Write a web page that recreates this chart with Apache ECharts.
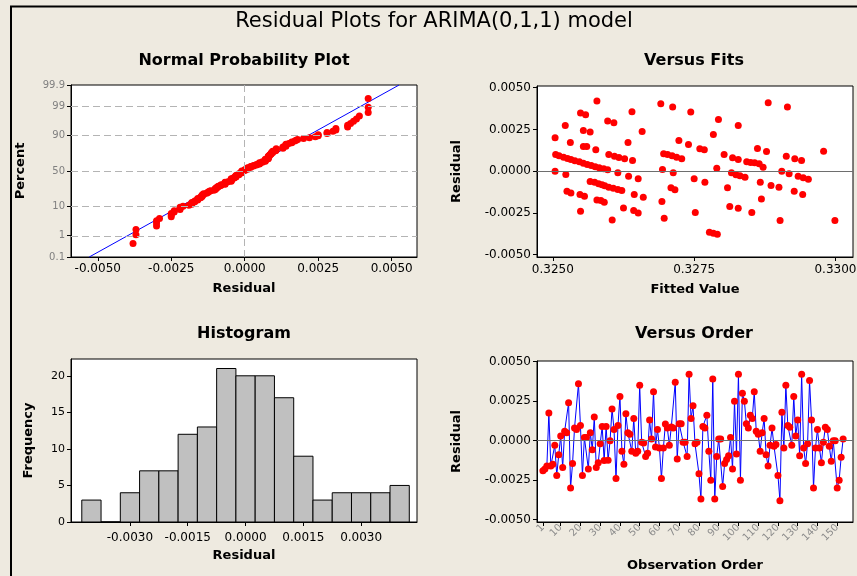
<!DOCTYPE html>
<html><head><meta charset="utf-8">
<script src="https://cdn.jsdelivr.net/npm/echarts@6/dist/echarts.min.js"></script>
<style>html,body{margin:0;padding:0;background:#EEEAE0}#c{width:857px;height:576px}</style>
</head><body><div id="c"></div>
<script>
// ---------- data ----------
const residuals = [
-0.0019,-0.0018,-0.0016,0.00175,-0.0016,-0.0015,-0.0003,-0.0022,-0.0009,0.0003,
-0.0017,0.0006,0.0005,0.0024,-0.0030,-0.00145,0.0008,0.0007,0.0036,0.00095,
-0.0022,0.0002,0.0002,-0.0018,0.0005,-0.00057,0.0015,-0.0017,-0.0014,-0.0002,
0.0009,-0.00126,0.0009,-0.00124,0.0000,0.0020,0.0007,-0.0024,0.00095,0.0028,
-0.00067,-0.0015,0.0017,0.0005,0.0004,-0.00067,0.0014,-0.0008,-0.00067,0.0035,
-0.0001,-0.00015,-0.0010,-0.0008,0.0013,0.0001,0.0031,-0.0004,0.0007,-0.00046,
-0.0024,-0.00046,0.00105,0.0008,-0.0003,0.00086,0.0008,0.0037,-0.00116,0.00107,
0.00107,-0.0001,-0.0001,-0.0010,0.0042,0.0014,0.0022,-0.0002,-0.0001,-0.0021,
-0.0037,0.0009,0.0008,0.0016,-0.00067,-0.0025,0.0039,-0.0037,-0.0010,0.0001,
0.0001,-0.0029,-0.00145,-0.0012,-0.00095,0.0002,-0.0018,0.0025,-0.00084,0.0042,
-0.0025,0.0030,0.0025,0.00107,0.0008,0.0016,0.0014,0.0031,0.0006,0.0004,
-0.00067,0.0005,0.0014,-0.0009,-0.0016,-0.0003,0.0008,-0.00036,-0.00025,-0.0022,
-0.0038,0.0018,-0.00046,0.0035,0.00095,0.00084,-0.0003,0.0028,0.0003,0.0013,
-0.00095,0.0042,-0.00046,-0.00145,-0.0002,0.0038,0.0013,-0.0030,-0.00046,0.0007,
-0.00046,-0.0014,-0.0001,0.00084,0.0007,-0.00036,-0.0013,0.0000,0.0000,-0.0030,
-0.0025,-0.00105,0.0001
];
const fitsFitted = [
0.32578,0.32549,0.32558,0.32522,0.32640,0.32597,0.32608,0.32554,0.32566,0.32504,0.32658,0.32531,0.32554,0.32560,0.32576,0.32633,
0.32505,0.32511,0.32519,0.32526,0.32532,0.32539,0.32547,0.32554,0.32561,0.32568,0.32575,0.32582,0.32590,0.32597,
0.32599,0.32609,0.32617,0.32627,0.32641,
0.32504,0.32523,0.32615,0.32634,0.32651,
0.32566,0.32574,0.32581,0.32587,0.32592,0.32599,0.32607,0.32615,0.32622,
0.32525,0.32532,0.32548,0.32556,0.32644,0.32660,0.32578,0.32585,0.32591,0.32625,0.32643,0.32651,0.32549,0.32605,
0.32691,0.32712,0.32744,0.32723,0.32740,
0.32696,0.32703,0.32711,0.32719,0.32728,
0.32694,0.32713,0.32709,0.32716,0.32693,0.32697,0.32750,0.32752,
0.32881,0.32915,0.32793,0.32828,0.32784,0.32760,0.32768,0.32862,0.32878,0.32979,
0.32803,0.32818,0.32828,0.32843,0.32850,0.32857,0.32865,0.32872,
0.32913,0.32928,0.32940,0.32790,
0.32816,0.32824,0.32831,0.32840,
0.32905,0.32918,0.32934,0.32943,0.32952,
0.32769,0.32809,0.32867,0.32886,0.32900,0.32927,0.32942,
0.32869,0.32813,0.32828,0.32852,0.32902,0.32999,
0.32777,0.32784,0.32791
];
const fitsResid = [
0.0042,0.00348,0.00338,0.00274,0.00356,0.0030,0.0029,0.00244,0.00234,0.0020,0.00238,0.00172,0.00148,0.00148,0.00128,0.00172,
0.0010,0.00092,0.00084,0.00076,0.0007,0.00062,0.00056,0.00048,0.0004,0.00034,0.00026,0.0002,0.00014,0.00008,
0.0010,0.0009,0.00082,0.00074,0.00064,
0.0000,-0.0002,-0.0001,-0.0003,-0.00046,
-0.00062,-0.00066,-0.00076,-0.00082,-0.00088,-0.00096,-0.00102,-0.0011,-0.00116,
-0.0012,-0.0013,-0.0014,-0.0015,-0.0014,-0.00156,-0.00172,-0.00176,-0.00186,-0.0022,-0.00236,-0.0025,-0.0024,-0.00292,
0.00404,0.00384,0.00354,0.00184,0.0016,
0.00104,0.0010,0.00092,0.00084,0.00074,
0.0001,-0.0001,-0.0010,-0.00112,-0.00182,-0.00282,-0.00046,-0.00248,
0.0041,0.00384,0.0031,0.00274,0.0022,0.00134,0.00128,0.00136,0.00118,0.0012,
0.0010,0.0008,0.0007,0.00056,0.00052,0.0005,0.00044,0.00024,
0.0009,0.00074,0.00064,0.00018,
-0.0001,-0.00022,-0.00028,-0.00036,
0.0000,-0.00016,-0.0003,-0.0004,-0.00048,
-0.00066,-0.0010,-0.00066,-0.00086,-0.00096,-0.0012,-0.0014,
-0.00166,-0.00212,-0.00222,-0.00248,-0.00296,-0.00296,
-0.00366,-0.00372,-0.00378
];
const histCenters = [-0.0040,-0.0035,-0.0030,-0.0025,-0.0020,-0.0015,-0.0010,-0.0005,0.0000,0.0005,0.0010,0.0015,0.0020,0.0025,0.0030,0.0035,0.0040];
const histCounts  = [3,0,4,7,7,12,13,21,20,20,17,9,3,4,4,4,5];
const histBinWidth = 0.0005;
const probLineX = [-0.00529, 0.00525];
const probLinePct = [0.1, 99.9];
const probPctTicks = [0.1, 1, 10, 50, 90, 99, 99.9];
const probPctLabels = ['0.1', '1', '10', '50', '90', '99', '99.9'];
const probPctGrid = [1, 10, 50, 90, 99];
const probXTicks = [-0.005, -0.0025, 0, 0.0025, 0.005];
const probXLabels = ['-0.0050', '-0.0025', '0.0000', '0.0025', '0.0050'];
const probXGrid = [-0.005, -0.00375, -0.0025, -0.00125, 0, 0.00125, 0.0025, 0.00375, 0.005];
const fitsXTicks = [0.325, 0.3275, 0.33];
const fitsXLabels = ['0.3250', '0.3275', '0.3300'];
const residTicks = [-0.005, -0.0025, 0, 0.0025, 0.005];
const residLabels = ['-0.0050', '-0.0025', '0.0000', '0.0025', '0.0050'];
const histXTicks = [-0.003, -0.0015, 0, 0.0015, 0.003];
const histXLabels = ['-0.0030', '-0.0015', '0.0000', '0.0015', '0.0030'];
const histYTicks = [0, 5, 10, 15, 20];
const orderTicks = [1, 10, 20, 30, 40, 50, 60, 70, 80, 90, 100, 110, 120, 130, 140, 150];

// ---------- helpers ----------
function probit(p){
  const a=[-3.969683028665376e+01,2.209460984245205e+02,-2.759285104469687e+02,1.383577518672690e+02,-3.066479806614716e+01,2.506628277459239e+00];
  const b=[-5.447609879822406e+01,1.615858368580409e+02,-1.556989798598866e+02,6.680131188771972e+01,-1.328068155288572e+01];
  const c=[-7.784894002430293e-03,-3.223964580411365e-01,-2.400758277161838e+00,-2.549732539343734e+00,4.374664141464968e+00,2.938163982698783e+00];
  const d=[7.784695709041462e-03,3.224671290700398e-01,2.445134137142996e+00,3.754408661907416e+00];
  const pl=0.02425, ph=1-pl; let q, r;
  if(p<pl){q=Math.sqrt(-2*Math.log(p));return (((((c[0]*q+c[1])*q+c[2])*q+c[3])*q+c[4])*q+c[5])/((((d[0]*q+d[1])*q+d[2])*q+d[3])*q+1);}
  if(p<=ph){q=p-0.5;r=q*q;return (((((a[0]*r+a[1])*r+a[2])*r+a[3])*r+a[4])*r+a[5])*q/(((((b[0]*r+b[1])*r+b[2])*r+b[3])*r+b[4])*r+1);}
  q=Math.sqrt(-2*Math.log(1-p));return -(((((c[0]*q+c[1])*q+c[2])*q+c[3])*q+c[4])*q+c[5])/((((d[0]*q+d[1])*q+d[2])*q+d[3])*q+1);
}
const zOf = pct => probit(pct/100);
const zMin = zOf(0.1), zMax = zOf(99.9);
const sortedRes = residuals.slice().sort((x,y)=>x-y);
const nRes = sortedRes.length;
const probPoints = sortedRes.map((v,i)=>[v, zOf((i+1-0.3)/(nRes+0.4)*100)]);
const lookup = (vals, labels) => v => { let bi=0, bd=Infinity; vals.forEach((t,i)=>{const dd=Math.abs(t-Number(v)); if(dd<bd){bd=dd;bi=i;}}); return labels[bi]; };

const FONT = '"DejaVu Sans", Verdana, sans-serif';
const tickLbl = (size, color) => ({fontFamily: FONT, fontSize: size, color: color || '#000'});
const nameStyle = {fontFamily: FONT, fontSize: 13, fontWeight: 'bold', color: '#000'};
const axisLineBlack = {show: true, onZero: false, lineStyle: {color: '#000', width: 1}};

function valAxis(gi, o){
  return Object.assign({
    type: 'value', gridIndex: gi, scale: true,
    axisLine: axisLineBlack,
    splitLine: {show: false},
    nameLocation: 'middle', nameTextStyle: nameStyle
  }, o);
}
const tick = vals => ({show: true, length: 4, customValues: vals, lineStyle: {color: '#000'}});

const chart = echarts.init(document.getElementById('c'), null, {renderer: 'canvas'});
const gridBase = {show: true, backgroundColor: '#FFFFFF', borderColor: '#000', borderWidth: 1, containLabel: false, outerBoundsMode: 'none'};
const probZTicks = probPctTicks.map(zOf);

const option = {
  animation: false,
  backgroundColor: '#EEEAE0',
  grid: [
    Object.assign({left: 71, top: 85, width: 346, height: 172}, gridBase),
    Object.assign({left: 537, top: 86, width: 316, height: 171}, gridBase),
    Object.assign({left: 71, top: 359, width: 346, height: 163}, gridBase),
    Object.assign({left: 537, top: 361, width: 316, height: 161}, gridBase)
  ],
  xAxis: [
    valAxis(0, {min: -0.00591, max: 0.00586, name: 'Residual', nameGap: 25, axisTick: tick(probXTicks),
      axisLabel: {customValues: probXTicks, formatter: lookup(probXTicks, probXLabels), margin: 6, ...tickLbl(12)}}),
    valAxis(1, {min: 0.32472, max: 0.33031, name: 'Fitted Value', nameGap: 26, axisTick: tick(fitsXTicks),
      axisLabel: {customValues: fitsXTicks, formatter: lookup(fitsXTicks, fitsXLabels), margin: 7, ...tickLbl(12)}}),
    valAxis(2, {min: -0.00453, max: 0.00445, name: 'Residual', nameGap: 27, axisTick: tick(histXTicks),
      axisLabel: {customValues: histXTicks, formatter: lookup(histXTicks, histXLabels), margin: 10, ...tickLbl(12)}}),
    valAxis(3, {min: -2, max: 158, name: 'Observation Order', nameGap: 37, axisTick: tick(orderTicks),
      axisLabel: {customValues: orderTicks, rotate: 45, margin: 4, ...tickLbl(10, '#8C8C8C')}})
  ],
  yAxis: [
    valAxis(0, {min: zMin, max: zMax, name: 'Percent', nameGap: 44, axisTick: tick(probZTicks),
      axisLabel: {customValues: probZTicks, margin: 6, ...tickLbl(10, '#808080'), formatter: lookup(probZTicks, probPctLabels)}}),
    valAxis(1, {min: -0.00514, max: 0.0051, name: 'Residual', nameGap: 74, axisTick: tick(residTicks),
      axisLabel: {customValues: residTicks, formatter: lookup(residTicks, residLabels), margin: 6, ...tickLbl(12)}}),
    valAxis(2, {min: 0, max: 22.3, name: 'Frequency', nameGap: 36, axisTick: tick(histYTicks),
      axisLabel: {customValues: histYTicks, margin: 6, ...tickLbl(11)}}),
    valAxis(3, {min: -0.00515, max: 0.00504, name: 'Residual', nameGap: 74, axisTick: tick(residTicks),
      axisLabel: {customValues: residTicks, formatter: lookup(residTicks, residLabels), margin: 6, ...tickLbl(12)}})
  ],
  graphic: [
    {type: 'rect', shape: {x: 11, y: 6.5, width: 900, height: 700}, style: {fill: null, stroke: '#000', lineWidth: 2}, silent: true},
    {type: 'text', x: 434, y: 22, style: {text: 'Residual Plots for ARIMA(0,1,1) model', fontFamily: FONT, fontSize: 21, fill: '#000', textAlign: 'center', textVerticalAlign: 'middle'}},
    {type: 'text', x: 244, y: 61, style: {text: 'Normal Probability Plot', fontFamily: FONT, fontSize: 16, fontWeight: 'bold', fill: '#000', textAlign: 'center', textVerticalAlign: 'middle'}},
    {type: 'text', x: 694, y: 61, style: {text: 'Versus Fits', fontFamily: FONT, fontSize: 16, fontWeight: 'bold', fill: '#000', textAlign: 'center', textVerticalAlign: 'middle'}},
    {type: 'text', x: 244, y: 334, style: {text: 'Histogram', fontFamily: FONT, fontSize: 16, fontWeight: 'bold', fill: '#000', textAlign: 'center', textVerticalAlign: 'middle'}},
    {type: 'text', x: 694, y: 334, style: {text: 'Versus Order', fontFamily: FONT, fontSize: 16, fontWeight: 'bold', fill: '#000', textAlign: 'center', textVerticalAlign: 'middle'}}
  ],
  series: [
    {type: 'line', xAxisIndex: 0, yAxisIndex: 0, data: [], z: 1, silent: true,
      markLine: {silent: true, symbol: ['none','none'], label: {show: false},
        lineStyle: {color: '#B4B4B4', width: 1, type: [7, 4]},
        data: probXGrid.map(v=>({xAxis: v})).concat(probPctGrid.map(p=>({yAxis: zOf(p)})))}},
    {type: 'line', xAxisIndex: 0, yAxisIndex: 0, z: 2, silent: true, showSymbol: false, symbol: 'none',
      lineStyle: {color: '#0000FF', width: 1},
      data: probLineX.map((x,i)=>[x, zOf(probLinePct[i])])},
    {type: 'scatter', xAxisIndex: 0, yAxisIndex: 0, z: 3, symbolSize: 7, itemStyle: {color: '#FF0000', opacity: 1},
      data: probPoints},
    {type: 'scatter', xAxisIndex: 1, yAxisIndex: 1, z: 3, symbolSize: 7, itemStyle: {color: '#FF0000', opacity: 1},
      data: fitsFitted.map((f,i)=>[f, fitsResid[i]]),
      markLine: {silent: true, symbol: ['none','none'], label: {show: false},
        lineStyle: {color: '#6E6E6E', width: 1, type: 'solid'}, data: [{yAxis: 0}]}},
    {type: 'custom', xAxisIndex: 2, yAxisIndex: 2, z: 2,
      data: histCenters.map((c,i)=>[c, histCounts[i]]),
      renderItem: (params, api) => {
        const c = api.value(0), n = api.value(1);
        const p0 = api.coord([c - histBinWidth/2, n]);
        const p1 = api.coord([c + histBinWidth/2, 0]);
        return {type: 'rect', shape: {x: p0[0], y: p0[1], width: p1[0]-p0[0], height: p1[1]-p0[1]},
          style: {fill: '#C0C0C0', stroke: '#000', lineWidth: 1}};
      }},
    {type: 'line', xAxisIndex: 3, yAxisIndex: 3, z: 3, symbol: 'circle', symbolSize: 7, showSymbol: true, showAllSymbol: true,
      lineStyle: {color: '#0000FF', width: 1}, itemStyle: {color: '#FF0000', opacity: 1},
      data: residuals.map((r,i)=>[i+1, r]),
      markLine: {silent: true, symbol: ['none','none'], label: {show: false},
        lineStyle: {color: '#6E6E6E', width: 1, type: 'solid'}, data: [{yAxis: 0}]}}
  ]
};
chart.setOption(option);
</script>
</body></html>
